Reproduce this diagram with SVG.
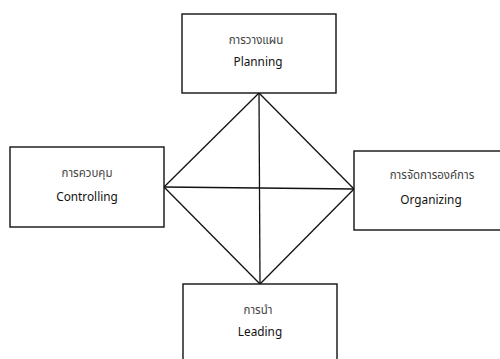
<svg xmlns="http://www.w3.org/2000/svg" width="500" height="359" viewBox="0 0 500 359">
<style>
.box{fill:#fff;stroke:#111;stroke-width:1.4}
.th{font-family:"Noto Sans","Noto Sans Thai","DejaVu Sans",sans-serif;font-size:11.5px;fill:#444;text-anchor:middle}
.en{font-family:"Noto Sans","Open Sans",sans-serif;font-size:11.8px;fill:#111;text-anchor:middle}
.ln{stroke:#111;stroke-width:1.3;fill:none}
</style>
<rect width="500" height="359" fill="#fff"/>
<g id="connectors">
<line class="ln" x1="259" y1="93" x2="164" y2="187"/>
<line class="ln" x1="164" y1="187" x2="260" y2="284"/>
<line class="ln" x1="260" y1="284" x2="354" y2="189"/>
<line class="ln" x1="354" y1="189" x2="259" y2="93"/>
<line class="ln" x1="259" y1="93" x2="260" y2="284"/>
<line class="ln" x1="164" y1="187" x2="354" y2="189"/>
</g>
<g id="planning">
<rect class="box" x="182" y="14" width="154" height="79"/>
<text class="th" x="256" y="44">การวางแผน</text>
<text class="en" x="258" y="66">Planning</text>
</g>
<g id="controlling">
<rect class="box" x="10" y="147" width="154" height="80"/>
<text class="th" x="87" y="177">การควบคุม</text>
<text class="en" x="87" y="201">Controlling</text>
</g>
<g id="organizing">
<rect class="box" x="354" y="151" width="160" height="79"/>
<text class="th" x="432" y="179">การจัดการองค์การ</text>
<text class="en" x="431" y="204">Organizing</text>
</g>
<g id="leading">
<rect class="box" x="183" y="284" width="154" height="90"/>
<text class="th" x="258" y="314">การนำ</text>
<text class="en" x="260" y="336">Leading</text>
</g>
</svg>
